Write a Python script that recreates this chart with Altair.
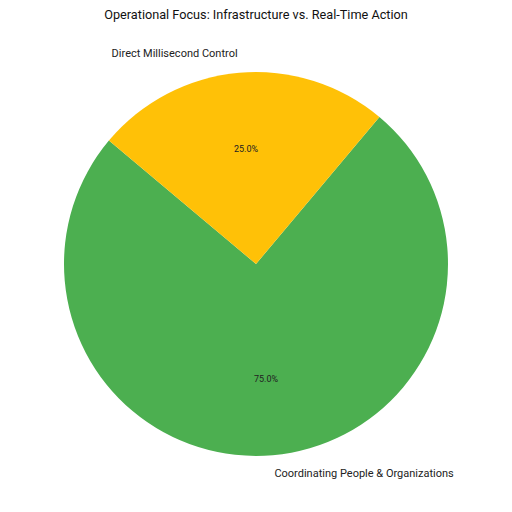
import math
import altair as alt
import pandas as pd

categories = ["Coordinating People & Organizations", "Direct Millisecond Control"]
values = [75, 25]
pct_labels = ["75.0%", "25.0%"]
colors = ["#4CAF50", "#FFC107"]
title_text = "Operational Focus: Infrastructure vs. Real-Time Action"

df = pd.DataFrame({"category": categories, "value": values, "pct": pct_labels,
                   "order": [0, 1]})

start = math.radians(40)
theta_scale = alt.Scale(range=[start, start + 2 * math.pi])
CX, CY, R = 248, 256, 192
FONT = "Roboto"

base = alt.Chart(df).encode(
    theta=alt.Theta("value:Q", stack=True, scale=theta_scale),
    order=alt.Order("order:Q"),
)

arcs = base.mark_arc(outerRadius=R).encode(
    color=alt.Color("category:N", scale=alt.Scale(domain=categories, range=colors), legend=None),
    x=alt.value(CX), y=alt.value(CY),
)

pct = base.mark_text(radius=R * 0.6, font=FONT, fontSize=9, color="#222222").encode(
    text="pct:N", x=alt.value(CX), y=alt.value(CY),
)

lab_left = base.mark_text(radius=R * 1.1, font=FONT, fontSize=11, color="#222222",
                          align="right", baseline="middle").encode(
    text=alt.condition(alt.datum.category == categories[1], "category:N", alt.value("")),
    x=alt.value(CX), y=alt.value(CY),
)
lab_right = base.mark_text(radius=R * 1.1, font=FONT, fontSize=11, color="#222222",
                           align="left", baseline="middle").encode(
    text=alt.condition(alt.datum.category == categories[0], "category:N", alt.value("")),
    x=alt.value(CX), y=alt.value(CY),
)

title = alt.Chart(pd.DataFrame({"t": [title_text]})).mark_text(
    font=FONT, fontSize=12.7, color="#111111", align="center", baseline="middle"
).encode(text="t:N", x=alt.value(CX), y=alt.value(7))

chart = alt.layer(arcs, pct, lab_left, lab_right, title).properties(
    width=496, height=496, autosize=alt.AutoSizeParams(type="none"), padding=0
).configure_view(stroke=None)

chart.save("out.html", embed_options={"renderer": "svg", "actions": False})
